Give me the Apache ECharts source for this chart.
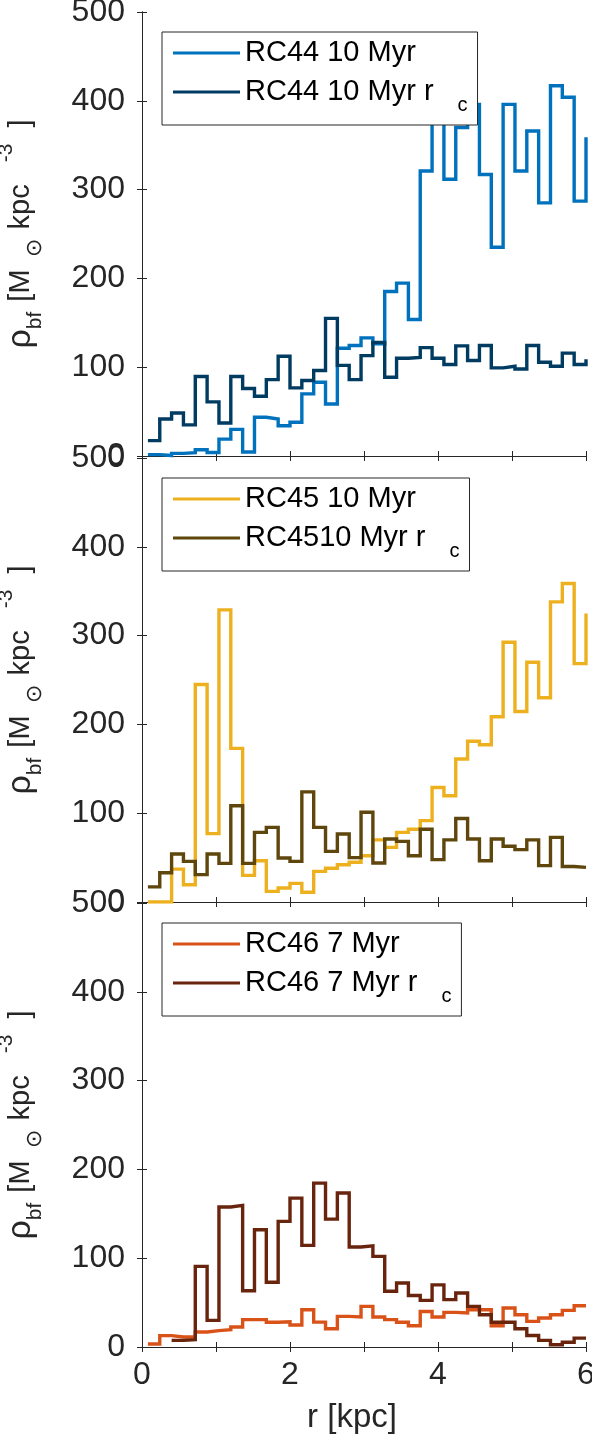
<!DOCTYPE html>
<html>
<head>
<meta charset="utf-8">
<script src="https://cdn.jsdelivr.net/npm/echarts@6/dist/echarts.min.js"></script>
<style>
  html, body { margin: 0; padding: 0; background: #fff; }
  #chart { width: 592px; height: 1442px; }
</style>
</head>
<body>
<div id="chart"></div>
<script>
// bin start positions r [kpc] (stairs), last entry closes the final step
const rBins = [0.08, 0.24, 0.40, 0.56, 0.72, 0.88, 1.04, 1.20, 1.36, 1.52, 1.68, 1.84, 2.00,
  2.16, 2.32, 2.48, 2.64, 2.80, 2.96, 3.12, 3.28, 3.44, 3.60, 3.76, 3.92, 4.08, 4.24, 4.40,
  4.56, 4.72, 4.88, 5.04, 5.20, 5.36, 5.52, 5.68, 5.84, 6.00];

const rc44 = [1.5, 0.5, 3, 3.8, 7, 4, 19, 30, 4.5, 43.6, 41.7, 34, 38, 70, 83, 58.6, 121.4,
  124.4, 133, 126.3, 185.3, 194.7, 153.8, 321, 420, 311.6, 370, 396, 317, 235, 396, 321, 366,
  285, 417, 404, 287, 359];
const rc44rc = [17.3, 41.7, 48.5, 35, 89.5, 61, 37.2, 89.5, 76, 67.3, 86, 112.4, 76.7, 85,
  96.2, 155, 102, 86, 113, 128, 88.7, 110, 111, 122, 110, 103, 124, 107.5, 124.4, 99.2, 101,
  98, 124.4, 105.6, 101, 115.8, 103, 109];

const rc45 = [0, 0, 37, 19.5, 245, 77, 329, 173, 30, 46.5, 12, 15.8, 21, 11, 34.5, 38, 42,
  44.7, 52, 70, 61.5, 78.4, 82, 91.6, 129, 119.7, 161, 181, 177, 208.6, 292.5, 214.6, 270,
  230, 338, 358.6, 268.4, 325];
const rc45rc = [17, 33, 54, 45.8, 30.8, 54, 43.5, 108.4, 43.5, 78.4, 84, 49.5, 45.8, 124, 84,
  57, 76.5, 50, 101, 44, 71, 68.3, 52, 82, 47.7, 70, 94, 71, 46.5, 71, 62.7, 59, 70, 41, 72.8,
  40, 39, 39];

const rc46 = [3.4, 12.8, 11.3, 11.3, 16.9, 18.4, 19.5, 22.5, 30.8, 30.8, 27.8, 28.5, 24.8, 42,
  28, 20.6, 34.5, 33.8, 45.8, 33.8, 30.8, 27.8, 24, 40, 33.8, 39, 38.3, 42, 42, 24, 44, 36.4,
  28.9, 32.6, 36.4, 41.3, 46.5, 46.5];
const rc46rc = [null, null, 7.5, 8.3, 90.8, 30, 157.6, 159.5, 63.4, 132, 73, 141.5, 167.7,
  114.4, 184.6, 144, 173.4, 112.6, 114, 102, 62.7, 72, 58, 52.5, 70, 53.3, 60.8, 45.8, 36.4,
  27.8, 27.8, 20.6, 13, 7.5, 2.6, 5.3, 10, 10];

const seriesNames = [
  ['RC44 10 Myr', 'RC44 10 Myr rc'],
  ['RC45 10 Myr', 'RC4510 Myr rc'],
  ['RC46 7 Myr', 'RC46 7 Myr rc']
];
const xTickLabels = ['0', '2', '4', '6'];

const font = 'Liberation Sans, Helvetica, Arial, sans-serif';
const ink = '#262626';

const panels = [
  { top: 12, data: [rc44, rc44rc], colors: ['#0072BD', '#003B62'], legendTop: 32 },
  { top: 458, data: [rc45, rc45rc], colors: ['#EDB120', '#5E460D'], legendTop: 478 },
  { top: 903, data: [rc46, rc46rc], colors: ['#D95319', '#68240C'], legendTop: 923 }
];

const yName = '{r|ρ}{s|bf}{m| [M}{o|⊙}{m|kpc}{p|-3}{m|  ]}';
const yRich = {
  r: { fontSize: 34, lineHeight: 50, verticalAlign: 'middle', fontFamily: font, color: ink },
  m: { fontSize: 29, lineHeight: 50, verticalAlign: 'middle', fontFamily: font, color: ink },
  s: { fontSize: 21, lineHeight: 20, verticalAlign: 'bottom', fontFamily: font, color: ink, padding: [0, 2, 0, 0] },
  o: { fontSize: 22, lineHeight: 22, verticalAlign: 'bottom', fontFamily: font, color: ink, padding: [0, 10, 0, 12] },
  p: { fontSize: 21, lineHeight: 20, verticalAlign: 'top', fontFamily: font, color: ink, padding: [0, 0, 0, 22] }
};

const tickStyle = { inside: true, length: 5, lineStyle: { color: ink, width: 1 } };
const lineAxis = { lineStyle: { color: ink, width: 1 } };

const grid = [], xAxis = [], yAxis = [], series = [], legend = [];

panels.forEach((p, k) => {
  const last = k === panels.length - 1;
  grid.push({ left: 142, width: 444, top: p.top, height: 444, outerBoundsMode: 'none', containLabel: false });

  xAxis.push({
    gridIndex: k, type: 'value', min: 0, max: 6, interval: 1, position: 'bottom',
    axisLine: lineAxis, axisTick: tickStyle, splitLine: { show: false },
    axisLabel: {
      show: last, margin: 12, fontSize: 32, color: ink, fontFamily: font,
      formatter: v => (xTickLabels.includes(String(v)) ? String(v) : '')
    },
    name: last ? 'r [kpc]' : '', nameLocation: 'middle', nameGap: 54, nameMoveOverlap: false,
    nameTextStyle: { fontSize: 33, color: ink, fontFamily: font, padding: [0, 24, 0, 0] }
  });
  xAxis.push({
    gridIndex: k, type: 'value', min: 0, max: 6, interval: 1, position: 'top',
    axisLine: lineAxis, axisTick: tickStyle, splitLine: { show: false }, axisLabel: { show: false }
  });

  yAxis.push({
    gridIndex: k, type: 'value', min: 0, max: 500, interval: 100, position: 'left',
    axisLine: lineAxis, axisTick: tickStyle, splitLine: { show: false },
    axisLabel: { margin: 17, fontSize: 32, color: ink, fontFamily: font },
    name: yName, nameLocation: 'middle', nameRotate: 90, nameGap: 96, nameMoveOverlap: false,
    nameTextStyle: { rich: yRich }
  });
  yAxis.push({
    gridIndex: k, type: 'value', min: 0, max: 500, interval: 100, position: 'right',
    axisLine: lineAxis, axisTick: tickStyle, splitLine: { show: false }, axisLabel: { show: false }
  });

  p.data.forEach((vals, j) => {
    series.push({
      type: 'line', name: seriesNames[k][j], xAxisIndex: 2 * k, yAxisIndex: 2 * k,
      step: 'end', showSymbol: false, symbol: 'none', clip: true,
      lineStyle: { width: 3.4, color: p.colors[j], join: 'miter' }, itemStyle: { color: p.colors[j] },
      data: rBins.map((r, i) => [r, vals[i]])
    });
  });

  legend.push({
    data: seriesNames[k], orient: 'vertical', left: 162, top: p.legendTop,
    backgroundColor: '#fff', borderColor: ink, borderWidth: 1, borderRadius: 0,
    padding: [6, 10, 10, 11], itemGap: 10, itemWidth: 67, itemHeight: 3, icon: 'rect',
    selectedMode: false,
    formatter: name => name.endsWith(' rc')
      ? '{t|' + name.slice(0, -1) + '}{c|c}'
      : '{t|' + name + '}',
    textStyle: {
      rich: {
        t: { fontSize: 29, lineHeight: 30, verticalAlign: 'top', fontFamily: font, color: '#000' },
        c: { fontSize: 20, lineHeight: 20, verticalAlign: 'top', fontFamily: font, color: '#000', padding: [18, 0, 0, 24] }
      }
    }
  });
});

const chart = echarts.init(document.getElementById('chart'));
chart.setOption({
  animation: false,
  backgroundColor: '#fff',
  grid, xAxis, yAxis, series, legend
});
</script>
</body>
</html>
